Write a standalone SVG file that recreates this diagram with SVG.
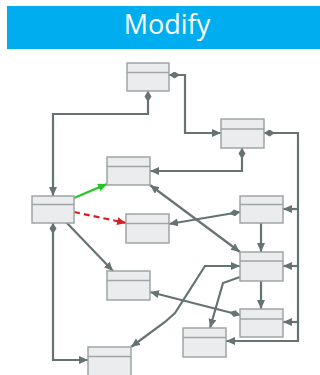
<svg xmlns="http://www.w3.org/2000/svg" width="320" height="375" viewBox="0 0 320 375">
<style>
.n rect{fill:#ebecee;stroke:#9ea5a5;stroke-width:1.5}
.n line{stroke:#9ea5a5;stroke-width:1.5}
.c path{fill:none;stroke:#677272;stroke-width:2.2}
.t{font-family:"Open Sans","Noto Sans",sans-serif;font-size:27px;fill:#fff;text-anchor:middle}
</style>
<defs>
<marker id="ar" markerUnits="userSpaceOnUse" markerWidth="11" markerHeight="9" refX="9" refY="4" orient="auto-start-reverse"><path d="M0,0 L9,4 L0,8 z" fill="#677272"/></marker>
<marker id="dm" markerUnits="userSpaceOnUse" markerWidth="12" markerHeight="8" refX="0" refY="3.5" orient="auto"><path d="M0,3.5 L5.5,0 L11,3.5 L5.5,7 z" fill="#677272"/></marker>
<marker id="ag" markerUnits="userSpaceOnUse" markerWidth="11" markerHeight="9" refX="9" refY="4" orient="auto"><path d="M0,0 L9,4 L0,8 z" fill="#22c722"/></marker>
<marker id="arr" markerUnits="userSpaceOnUse" markerWidth="11" markerHeight="9" refX="9" refY="4" orient="auto"><path d="M0,0 L9,4 L0,8 z" fill="#d62020"/></marker>
</defs>
<rect x="7" y="6" width="313" height="43" fill="#00aeef"/>
<text class="t" x="167" y="34">Modify</text>
<g class="c">
<path d="M148,91 V114 H53 V196" marker-start="url(#dm)" marker-end="url(#ar)"/>
<path d="M169,75 H185 V133 H221" marker-start="url(#dm)" marker-end="url(#ar)"/>
<path d="M242,148 V171 H150" marker-start="url(#dm)" marker-end="url(#ar)"/>
<path d="M264,133 H298 V341 H226" marker-start="url(#dm)" marker-end="url(#ar)"/>
<path d="M298,209 H283" marker-end="url(#ar)"/>
<path d="M298,266 H283" marker-end="url(#ar)"/>
<path d="M298,322 H283" marker-end="url(#ar)"/>
<path d="M74,198 L107,184" style="stroke:#22c722" marker-end="url(#ag)"/>
<path d="M74,212 L126,223" style="stroke:#d62020;stroke-dasharray:6,4" marker-end="url(#arr)"/>
<path d="M53,223 V360 H88" marker-start="url(#dm)" marker-end="url(#ar)"/>
<path d="M66,222 L113,271" marker-end="url(#ar)"/>
<path d="M240,212 L169,224" marker-start="url(#dm)" marker-end="url(#ar)"/>
<path d="M261,223 V252" marker-end="url(#ar)"/>
<path d="M150,185 L240,252" marker-start="url(#ar)" marker-end="url(#ar)"/>
<path d="M240,266 H205 L175,313 L165,322 L131,347" marker-start="url(#ar)" marker-end="url(#ar)"/>
<path d="M240,277 L223,283 L210,328" marker-end="url(#ar)"/>
<path d="M261,281 V309" marker-end="url(#ar)"/>
<path d="M240,315 L150,292" marker-start="url(#dm)" marker-end="url(#ar)"/>
</g>
<g id="nA" class="n"><rect x="127" y="63" width="42" height="28"/><line x1="127" y1="72.5" x2="169" y2="72.5"/></g>
<g id="nB" class="n"><rect x="107" y="157" width="43" height="28"/><line x1="107" y1="166.5" x2="150" y2="166.5"/></g>
<g id="nC" class="n"><rect x="221" y="119" width="43" height="29"/><line x1="221" y1="129" x2="264" y2="129"/></g>
<g id="nD" class="n"><rect x="32" y="196" width="42" height="27"/><line x1="32" y1="204.5" x2="74" y2="204.5"/></g>
<g id="nE" class="n"><rect x="126" y="214" width="43" height="29"/><line x1="126" y1="223.5" x2="169" y2="223.5"/></g>
<g id="nG" class="n"><rect x="240" y="196" width="43" height="27"/><line x1="240" y1="204.5" x2="283" y2="204.5"/></g>
<g id="nI" class="n"><rect x="240" y="252" width="43" height="29"/><line x1="240" y1="261" x2="283" y2="261"/></g>
<g id="nF" class="n"><rect x="107" y="271" width="43" height="29"/><line x1="107" y1="280.5" x2="150" y2="280.5"/></g>
<g id="nK" class="n"><rect x="240" y="309" width="43" height="28"/><line x1="240" y1="319" x2="283" y2="319"/></g>
<g id="nJ" class="n"><rect x="183" y="328" width="43" height="29"/><line x1="183" y1="337.5" x2="226" y2="337.5"/></g>
<g id="nH" class="n"><rect x="88" y="347" width="43" height="29"/><line x1="88" y1="356.5" x2="131" y2="356.5"/></g>
</svg>
